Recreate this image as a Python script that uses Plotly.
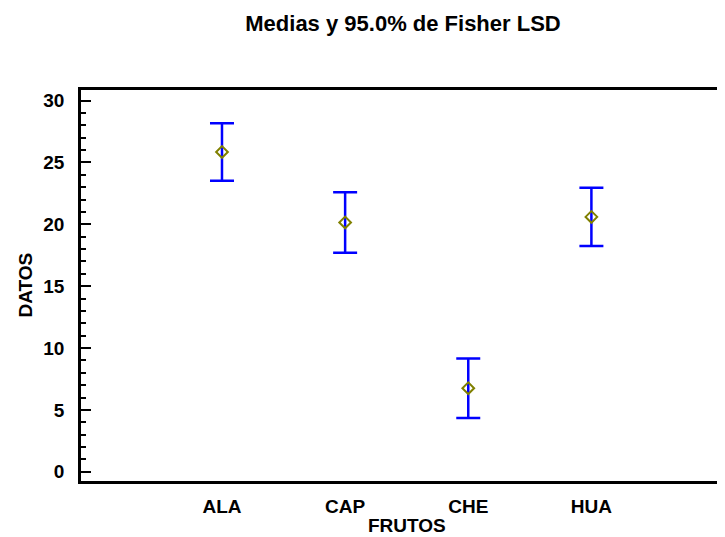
import plotly.graph_objects as go

# Data
categories = ["ALA", "CAP", "CHE", "HUA"]
means = [25.85, 20.15, 6.75, 20.6]
half_width = [2.33, 2.44, 2.41, 2.35]
y_ticks = [0, 5, 10, 15, 20, 25, 30]

FONT = "Liberation Sans, Arial, sans-serif"

# The page adds an 8px body margin, so the figure is 8px smaller and
# all layout positions are measured from (8, 8) of the window.
W, H = 717, 529
L, T, B = 73, 82, 473  # plot area edges in figure pixels
PW, PH = W - L, B - T

fig = go.Figure()
fig.add_trace(go.Scatter(
    x=categories, y=means, mode="markers",
    marker=dict(symbol="diamond-open", size=9, color="#808000", line=dict(width=2, color="#808000")),
    error_y=dict(type="data", array=half_width, visible=True, color="#0000FF", thickness=2.5, width=12),
    showlegend=False, hoverinfo="x+y",
))
# invisible helper trace so the right-side tick axis is rendered
fig.add_trace(go.Scatter(
    x=categories, y=means, yaxis="y2", mode="markers",
    marker=dict(opacity=0), showlegend=False, hoverinfo="skip",
))

yrange = [-0.75, 30.86]
bold = dict(family=FONT, size=19, weight="bold", color="black")
fig.update_layout(
    width=W, height=H,
    margin=dict(l=L, r=0, t=T, b=H - B, pad=0),
    paper_bgcolor="white", plot_bgcolor="white",
    font=dict(family=FONT, color="black"),
    title=dict(text="Medias y 95.0% de Fisher LSD", font=dict(family=FONT, size=22, weight="bold", color="black"),
               x=395 / W, xref="container", xanchor="center",
               y=1 - 15 / H, yref="container", yanchor="middle"),
    xaxis=dict(
        type="category", range=[-1.145, 4.085],
        showline=True, linecolor="black", linewidth=2.5, mirror=True,
        ticks="", showgrid=False, zeroline=False,
        tickfont=bold, ticklabelstandoff=6,
        automargin=False,
    ),
    yaxis=dict(
        range=yrange, tickvals=y_ticks,
        showline=True, linecolor="black", linewidth=2.5,
        ticks="inside", ticklen=10, tickwidth=2, tickcolor="black",
        minor=dict(dtick=1, ticks="inside", ticklen=5, tickwidth=2, tickcolor="black", showgrid=False),
        showgrid=False, zeroline=False,
        tickfont=bold, ticklabelstandoff=10,
        automargin=False,
    ),
    yaxis2=dict(
        range=yrange, tickvals=y_ticks, overlaying="y", side="right",
        showline=False, ticks="inside", ticklen=3, tickwidth=2, tickcolor="black",
        showticklabels=False, showgrid=False, zeroline=False,
    ),
    annotations=[
        dict(text="FRUTOS", font=bold, showarrow=False,
             xref="paper", yref="paper", x=(399 - L) / PW, y=(B - 517) / PH,
             xanchor="center", yanchor="middle"),
        dict(text="DATOS", font=bold, showarrow=False, textangle=-90,
             xref="paper", yref="paper", x=(17 - L) / PW, y=0.5,
             xanchor="center", yanchor="middle"),
    ],
)

fig.write_html("out.html")
